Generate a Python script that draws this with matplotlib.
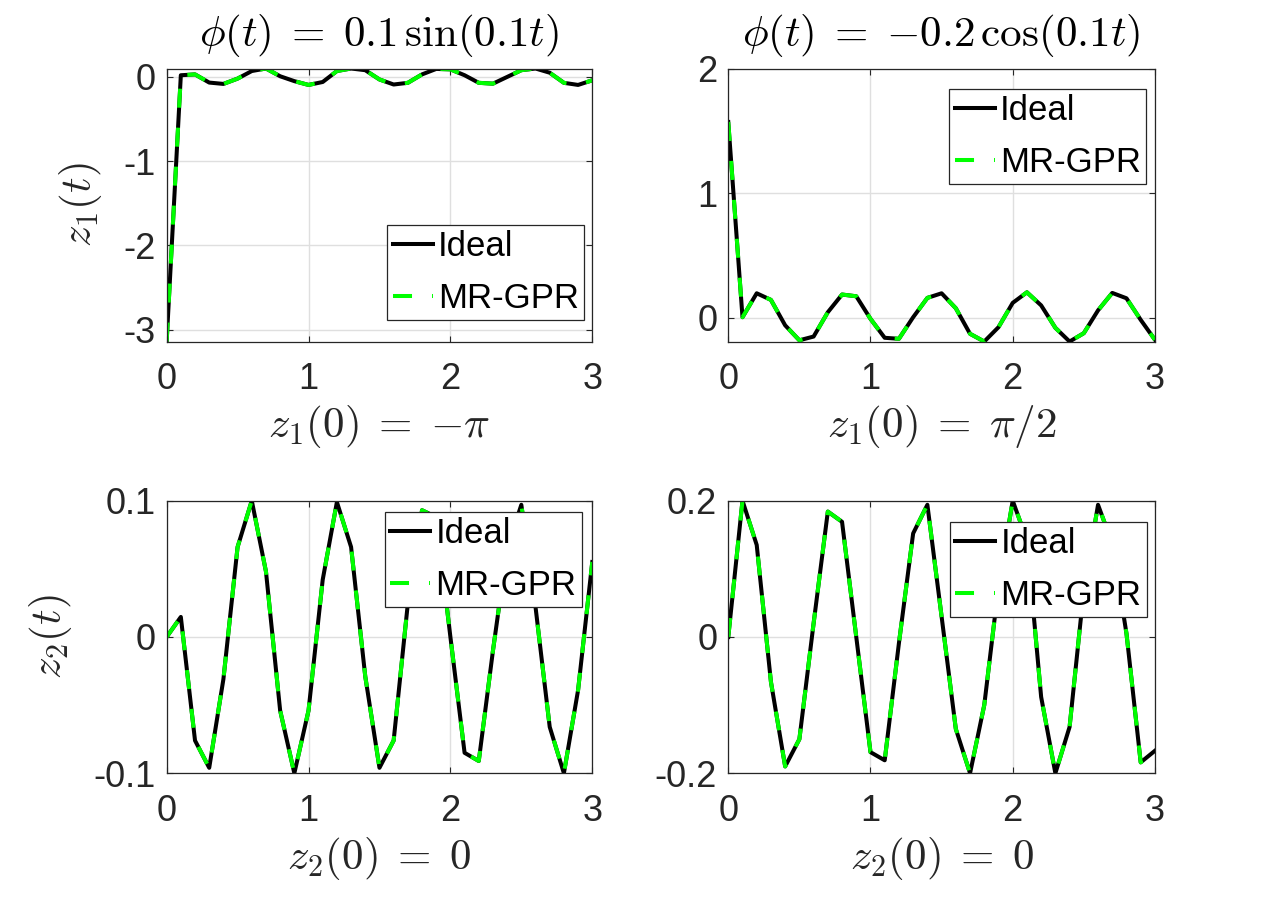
import numpy as np
import matplotlib
matplotlib.use("Agg")
import matplotlib.pyplot as plt

plt.rcParams["font.family"] = ["Liberation Sans", "DejaVu Sans"]
plt.rcParams["mathtext.fontset"] = "cm"
plt.rcParams["axes.unicode_minus"] = False
plt.rcParams["lines.scale_dashes"] = False

# time samples (s)
t = [0.0, 0.1, 0.2, 0.3, 0.4, 0.5, 0.6, 0.7, 0.8, 0.9, 1.0,
     1.1, 1.2, 1.3, 1.4, 1.5, 1.6, 1.7, 1.8, 1.9, 2.0,
     2.1, 2.2, 2.3, 2.4, 2.5, 2.6, 2.7, 2.8, 2.9, 3.0]

# phi = 0.1 sin(0.1t), z1(0) = -pi
z1_sin = [-3.1416, 0.02, 0.03, -0.067, -0.083, -0.02, 0.07, 0.1, 0.008, -0.05, -0.095,
          -0.06, 0.07, 0.1, 0.08, -0.03, -0.09, -0.07, 0.03, 0.095, 0.09,
          0.02, -0.07, -0.08, 0.0, 0.08, 0.1, 0.05, -0.07, -0.095, -0.04]
# phi = -0.2 cos(0.1t), z1(0) = pi/2
z1_cos = [1.5708, 0.005, 0.197, 0.144, -0.06, -0.18, -0.15, 0.045, 0.187, 0.173, -0.008,
          -0.16, -0.168, 0.005, 0.16, 0.197, 0.077, -0.128, -0.19, -0.075, 0.12,
          0.205, 0.1, -0.08, -0.19, -0.123, 0.06, 0.2, 0.157, -0.016, -0.176]
# phi = 0.1 sin(0.1t), z2(0) = 0
z2_sin = [0.0, 0.0147, -0.076, -0.096, -0.031, 0.066, 0.1, 0.048, -0.054, -0.1, -0.054,
          0.042, 0.099, 0.066, -0.029, -0.096, -0.076, 0.0245, 0.093, 0.088, 0.0,
          -0.085, -0.091, -0.01, 0.065, 0.097, 0.022, -0.066, -0.1, -0.039, 0.055]
# phi = -0.2 cos(0.1t), z2(0) = 0
z2_cos = [0.0, 0.2, 0.135, -0.066, -0.19, -0.15, 0.02, 0.184, 0.169, 0.0, -0.169,
          -0.181, -0.009, 0.152, 0.194, 0.03, -0.135, -0.2, -0.1, 0.074, 0.2,
          0.142, -0.088, -0.2, -0.132, 0.069, 0.194, 0.137, 0.005, -0.184, -0.167]

# MR-GPR estimates coincide with the ideal trajectories
gpr_z1_sin = list(z1_sin)
gpr_z1_cos = list(z1_cos)
gpr_z2_sin = list(z2_sin)
gpr_z2_cos = list(z2_cos)

titles = [r"$\phi(t) \;=\; 0.1\,\sin(0.1t)$", r"$\phi(t) \;=\; {-}0.2\,\cos(0.1t)$"]
xlabels = [r"$z_1(0) \;=\; {-}\pi$", r"$z_1(0) \;=\; \pi/2$", r"$z_2(0) \;=\; 0$", r"$z_2(0) \;=\; 0$"]
ylabels = [r"$z_1(t)$", "", r"$z_2(t)$", ""]
xticks = [0, 1, 2, 3]
yticks = [[-3, -2, -1, 0], [0, 1, 2], [-0.1, 0, 0.1], [-0.2, 0, 0.2]]
yticklabels = [["-3", "-2", "-1", "0"], ["0", "1", "2"], ["-0.1", "0", "0.1"], ["-0.2", "0", "0.2"]]
ylims = [(-3.1416, 0.1), (-0.19, 2.0), (-0.1, 0.1), (-0.2, 0.2)]

ideal = [z1_sin, z1_cos, z2_sin, z2_cos]
gpr = [gpr_z1_sin, gpr_z1_cos, gpr_z2_sin, gpr_z2_cos]

# axes boxes in figure fraction [left, bottom, width, height]
boxes = [[0.1305, 0.6251, 0.3333, 0.2997], [0.5703, 0.6251, 0.3341, 0.2997],
         [0.1305, 0.1512, 0.3333, 0.2992], [0.5703, 0.1512, 0.3341, 0.2992]]
leg_anchor = [("lower right", (0.9805, 0.0788)), ("upper right", (0.979, 0.925)),
              ("upper right", (0.975, 0.96)), ("upper right", (0.9805, 0.923))]

dark = "#262626"
fig = plt.figure(figsize=(12.77, 9.11), dpi=100)

for i in range(4):
    ax = fig.add_axes(boxes[i])
    ax.plot(t, ideal[i], color="black", lw=2.9, label="Ideal")
    ax.plot(t, gpr[i], color=(0, 1, 0), lw=2.9, linestyle=(0, (13.7, 14.4)), label="MR-GPR")
    ax.set_xlim(0, 3)
    ax.set_ylim(*ylims[i])
    ax.set_xticks(xticks)
    ax.set_xticklabels([str(v) for v in xticks])
    ax.set_yticks(yticks[i])
    ax.set_yticklabels(yticklabels[i])
    ax.grid(True, color="#dfdfdf", lw=1.0)
    ax.set_axisbelow(True)
    ax.tick_params(direction="in", length=4, width=0.8, colors=dark, labelsize=26,
                   top=True, right=True)
    ax.tick_params(axis="x", pad=15)
    ax.tick_params(axis="y", pad=8)
    for s in ax.spines.values():
        s.set_color(dark)
        s.set_linewidth(0.9)
    ax.set_xlabel(xlabels[i], fontsize=31, color=dark, labelpad=4)
    if ylabels[i]:
        ax.set_ylabel(ylabels[i], fontsize=31, color=dark, labelpad=14)
    if i < 2:
        ax.set_title(titles[i], fontsize=31, color="black", pad=16)
    loc, anchor = leg_anchor[i]
    leg = ax.legend(loc=loc, bbox_to_anchor=anchor, fontsize=25, frameon=True, fancybox=False,
                    edgecolor=dark, framealpha=1, borderpad=0.15, labelspacing=0.55,
                    handlelength=1.15, handletextpad=0.15, borderaxespad=0)
    leg.get_frame().set_linewidth(0.9)

fig.savefig("out.png", dpi=100)
